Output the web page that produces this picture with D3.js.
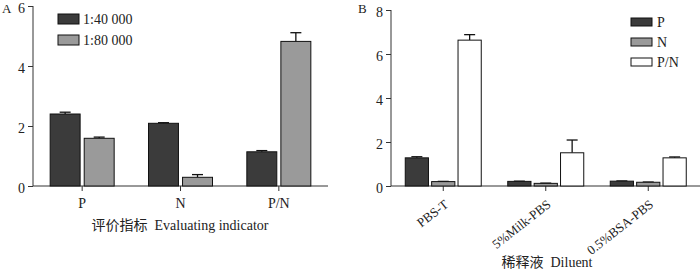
<!DOCTYPE html>
<html>
<head>
<meta charset="utf-8">
<script src="https://cdn.jsdelivr.net/npm/d3@7"></script>
<style>
body { margin: 0; background: #fff; }
svg text { font-family: "Liberation Serif", "Noto Sans CJK SC", serif; fill: #222; }
.axis path, .axis line { stroke: #333; }
</style>
</head>
<body>
<div id="chart"></div>
<script>
const WIDTH = 700, HEIGHT = 269;

// panel A
const catsA = ["P", "N", "P/N"];
const seriesA = ["1:40 000", "1:80 000"];
const valuesA = [[2.40, 2.09, 1.14], [1.59, 0.29, 4.82]];
const errorsA = [[0.06, 0.02, 0.04], [0.04, 0.09, 0.29]];
const ticksA = [0, 2, 4, 6];

// panel B
const catsB = ["PBS-T", "5%Milk-PBS", "0.5%BSA-PBS"];
const seriesB = ["P", "N", "P/N"];
const valuesB = [[1.28, 0.21, 0.22], [0.20, 0.12, 0.17], [6.63, 1.51, 1.28]];
const errorsB = [[0.05, 0.01, 0.01], [0.01, 0.01, 0.01], [0.25, 0.58, 0.04]];
const ticksB = [0, 2, 4, 6, 8];

const fillsA = ["#3b3b3b", "#9a9a9a"];
const fillsB = ["#3b3b3b", "#9a9a9a", "#ffffff"];

var svg = d3.select("#chart").append("svg")
    .attr("width", WIDTH)
    .attr("height", HEIGHT);

var drawPanel = function (o) {
    var g = svg.append("g");
    var y = d3.scaleLinear().domain(o.yDomain).range([186, o.yTop]);
    var x0 = d3.scaleBand().domain(o.cats).range(o.xRange);
    var x1 = d3.scaleBand().domain(o.series).range([-o.groupW / 2, o.groupW / 2]).paddingInner(o.pad);

    // y axis
    var yAxis = d3.axisLeft(y).tickValues(o.ticks).tickSize(5).tickPadding(3).tickFormat(d3.format("d"));
    g.append("g").attr("class", "axis")
        .attr("transform", "translate(" + o.axisX + ",0)")
        .call(yAxis)
        .call(function (s) {
            s.select(".domain").attr("d", "M0," + y.range()[0] + "V" + y.range()[1]);
            s.selectAll("text").style("font-size", "14px").attr("fill", "#222").attr("dy", "0.45em");
        });

    // x axis
    var xg = g.append("g").attr("class", "axis").attr("transform", "translate(0,186)");
    xg.append("line").attr("x1", o.axisX).attr("x2", o.axisEnd).attr("stroke", "#333");
    xg.selectAll(".tk").data(o.cats).enter().append("line")
        .attr("x1", function (d) { return x0(d) + x0.bandwidth() / 2; })
        .attr("x2", function (d) { return x0(d) + x0.bandwidth() / 2; })
        .attr("y1", 0).attr("y2", 5).attr("stroke", "#333");

    // bars
    o.series.forEach(function (s, si) {
        o.cats.forEach(function (c, ci) {
            var v = o.values[si][ci], e = o.errors[si][ci];
            var cx = x0(c) + x0.bandwidth() / 2 + x1(s);
            var mid = cx + x1.bandwidth() / 2;
            g.append("line").attr("x1", mid).attr("x2", mid)
                .attr("y1", y(v)).attr("y2", y(v + e)).attr("stroke", "#111").attr("stroke-width", 1.3);
            g.append("line").attr("x1", mid - 5.5).attr("x2", mid + 5.5)
                .attr("y1", y(v + e)).attr("y2", y(v + e)).attr("stroke", "#111").attr("stroke-width", 1.3);
            g.append("rect")
                .attr("x", cx).attr("width", x1.bandwidth())
                .attr("y", y(v)).attr("height", y(0) - y(v))
                .attr("fill", o.fills[si]).attr("stroke", "#111").attr("stroke-width", 1);
        });
    });

    // category labels
    if (o.rotate) {
        g.selectAll(".cl").data(o.cats).enter().append("text")
            .attr("transform", function (d) {
                return "translate(" + (x0(d) + x0.bandwidth() / 2 + 6) + ",206) rotate(-38)";
            })
            .attr("text-anchor", "end")
            .style("font-size", "13px")
            .text(function (d) { return d; });
    } else {
        g.selectAll(".cl").data(o.cats).enter().append("text")
            .attr("x", function (d) { return x0(d) + x0.bandwidth() / 2; })
            .attr("y", 208)
            .attr("text-anchor", "middle")
            .style("font-size", "14px")
            .text(function (d) { return d; });
    }

    // title
    g.append("text").attr("x", o.titleX).attr("y", o.titleY)
        .attr("text-anchor", "middle").style("font-size", "14px")
        .style("white-space", "pre")
        .text(o.title);

    // panel letter
    g.append("text").attr("x", o.letterX).attr("y", 13).style("font-size", "13px").text(o.letter);

    // legend
    o.series.forEach(function (s, si) {
        var ly = o.legY + si * o.legStep;
        g.append("rect").attr("x", o.legX).attr("y", ly).attr("width", 21).attr("height", o.legH)
            .attr("fill", o.fills[si]).attr("stroke", "#111");
        g.append("text").attr("x", o.legX + o.legGap).attr("y", ly + o.legH / 2 + 5)
            .style("font-size", "14px").text(s);
    });
};

drawPanel({
    cats: catsA, series: seriesA, values: valuesA, errors: errorsA, ticks: ticksA, fills: fillsA,
    yDomain: [0, 6], yTop: 6, xRange: [33, 328], axisX: 33, axisEnd: 328,
    groupW: 64, pad: 0.12, rotate: false,
    title: "评价指标  Evaluating indicator", titleX: 180, titleY: 230,
    letter: "A", letterX: 2,
    legX: 58, legY: 14, legH: 10, legStep: 21, legGap: 25
});

drawPanel({
    cats: catsB, series: seriesB, values: valuesB, errors: errorsB, ticks: ticksB, fills: fillsB,
    yDomain: [0, 8], yTop: 10, xRange: [392, 699.5], axisX: 391, axisEnd: 700,
    groupW: 76, pad: 0.12, rotate: true,
    title: "稀释液  Diluent", titleX: 547, titleY: 267,
    letter: "B", letterX: 358,
    legX: 631, legY: 18, legH: 8, legStep: 20, legGap: 26
});
</script>
</body>
</html>
